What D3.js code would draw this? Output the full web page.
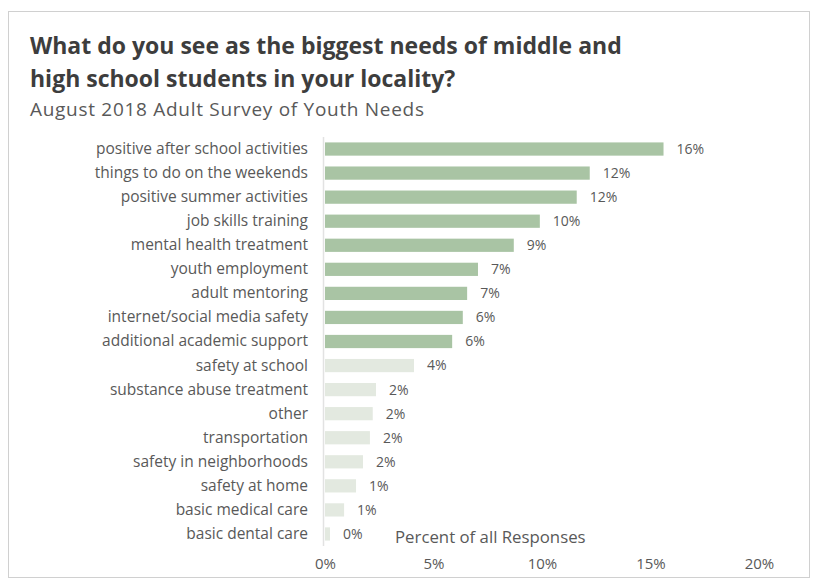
<!DOCTYPE html>
<html>
<head>
<meta charset="utf-8">
<script src="https://cdn.jsdelivr.net/npm/d3@7"></script>
<style>
  html, body { margin: 0; padding: 0; background: #fff; }
  svg { display: block; }
</style>
</head>
<body>
<svg id="chart" width="814" height="582"></svg>
<script>
const categories = [
  "positive after school activities",
  "things to do on the weekends",
  "positive summer activities",
  "job skills training",
  "mental health treatment",
  "youth employment",
  "adult mentoring",
  "internet/social media safety",
  "additional academic support",
  "safety at school",
  "substance abuse treatment",
  "other",
  "transportation",
  "safety in neighborhoods",
  "safety at home",
  "basic medical care",
  "basic dental care"
];
const values = [0.156, 0.122, 0.116, 0.099, 0.087, 0.0705, 0.0655, 0.0635, 0.0586, 0.041, 0.0235, 0.022, 0.0207, 0.0175, 0.0143, 0.0088, 0.0023];
const highlighted = [true, true, true, true, true, true, true, true, true, false, false, false, false, false, false, false, false];
const xTicks = [0, 0.05, 0.10, 0.15, 0.20];
const titleLines = ["What do you see as the biggest needs of middle and", "high school students in your locality?"];
const subtitle = "August 2018 Adult Survey of Youth Needs";
const axisTitle = "Percent of all Responses";

const data = categories.map((c, i) => ({ cat: c, value: values[i], hi: highlighted[i] }));

const svg = d3.select("#chart");
const font = "'Open Sans', Lato, sans-serif";

// chart border
svg.append("rect")
  .attr("x", 8.5).attr("y", 11.5).attr("width", 801).attr("height", 566)
  .attr("fill", "#fff").attr("stroke", "#d0d0d0").attr("stroke-width", 1);

// titles
svg.selectAll("text.title").data(titleLines).enter().append("text")
  .attr("class", "title")
  .attr("x", 30).attr("y", (d, i) => 54 + i * 33)
  .attr("font-family", font).attr("font-weight", "bold").attr("font-size", 23)
  .attr("fill", "#3d3d3d")
  .text(d => d);

svg.append("text")
  .attr("x", 30).attr("y", 116)
  .attr("font-family", font).attr("font-size", 19)
  .attr("textLength", 394).attr("lengthAdjust", "spacing")
  .attr("fill", "#595959")
  .text(subtitle);

const x = d3.scaleLinear().domain([0, 0.20]).range([325, 759]);
const y = d3.scaleBand().domain(categories).range([137, 546]).paddingInner(0.45).paddingOuter(0.225);

// vertical axis line
svg.append("line")
  .attr("x1", x(0) - 1.5).attr("x2", x(0) - 1.5)
  .attr("y1", y.range()[0]).attr("y2", y.range()[1])
  .attr("stroke", "#e2e2e2").attr("stroke-width", 1.5);

// bars
svg.selectAll("rect.bar").data(data).enter().append("rect")
  .attr("class", "bar")
  .attr("x", x(0))
  .attr("y", d => y(d.cat))
  .attr("width", d => x(d.value) - x(0))
  .attr("height", y.bandwidth())
  .attr("fill", d => d.hi ? "#a9c4a4" : "#e3e9e0");

// category labels
const yAxis = d3.axisLeft(y).tickSize(0).tickPadding(0);
const yg = svg.append("g").attr("transform", `translate(308,0)`).call(yAxis);
yg.select(".domain").remove();
yg.selectAll("text")
  .attr("font-family", font).attr("font-size", 15.5)
  .attr("fill", "#595959");

// value labels
const fmt = d3.format(".0%");
svg.selectAll("text.val").data(data).enter().append("text")
  .attr("class", "val")
  .attr("x", d => x(d.value) + 13)
  .attr("y", d => y(d.cat) + y.bandwidth() / 2)
  .attr("dy", "0.35em")
  .attr("font-family", font).attr("font-size", 14)
  .attr("fill", "#595959")
  .text(d => fmt(d.value));

// x axis ticks
const xAxis = d3.axisBottom(x).tickValues(xTicks).tickFormat(d3.format(".0%")).tickSize(0).tickPadding(0);
const xg = svg.append("g").attr("transform", `translate(0,558)`).call(xAxis);
xg.select(".domain").remove();
xg.selectAll("text")
  .attr("font-family", font).attr("font-size", 15)
  .attr("fill", "#595959");

// axis title
svg.append("text")
  .attr("x", 395).attr("y", 537)
  .attr("dy", "0.35em")
  .attr("font-family", font).attr("font-size", 16.8)
  .attr("fill", "#595959")
  .text(axisTitle);
</script>
</body>
</html>
